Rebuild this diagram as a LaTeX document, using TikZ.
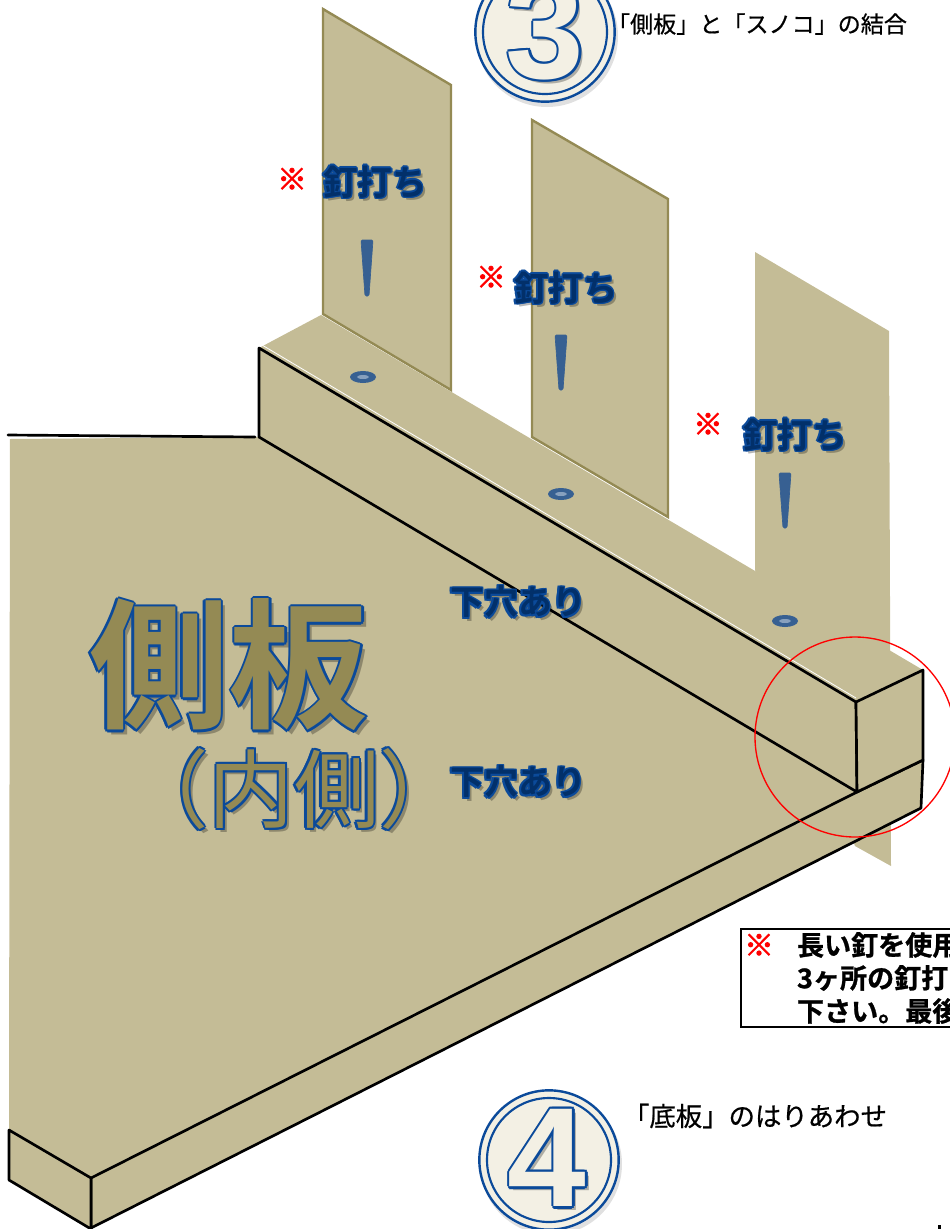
\documentclass[tikz,border=0pt]{standalone}
\usepackage{fontspec}
\setmainfont{Liberation Sans}
\newfontfamily\jp{Noto Sans CJK JP}
\newfontfamily\jpbold{Noto Sans CJK JP Bold}
\newfontfamily\jpmarkfat[FakeBold=3]{Noto Sans CJK JP Bold}
\newfontfamily\jpnote[FakeBold=1]{Noto Sans CJK JP Bold}
\newfontfamily\jpcap[FakeBold=.6]{Noto Sans CJK JP}
\newfontfamily\numbold{Liberation Sans Bold}
\definecolor{wood}{HTML}{C4BC96}
\definecolor{woodedge}{HTML}{948A54}
\definecolor{inkblue}{HTML}{0B4A9A}
\definecolor{inknavy}{HTML}{02306A}
\definecolor{nailblue}{HTML}{376092}
\definecolor{cream}{HTML}{F3F0E4}
\tikzset{
  board/.style={fill=wood,draw=woodedge,line width=1.8pt,line join=miter},
  boardplain/.style={fill=wood,draw=none},
  woodface/.style={fill=wood,draw=black,line width=2pt,line join=round},
  edgeline/.style={draw=black,line width=2pt,line cap=round},
  nail/.style={fill=nailblue,draw=nailblue,line width=.5pt,line join=round,rounded corners=1pt},
  hole/.style={fill=nailblue,draw=none},
  holeglint/.style={fill=nailblue!60!white,draw=none},
  plain/.style={inner sep=0pt,outer sep=0pt,anchor=center},
  redmark/.style={plain,text=red,font=\jpmarkfat\fontsize{22}{22}\selectfont},
  notebox/.style={draw=black,line width=2.2pt,fill=white},
  note/.style={plain,anchor=west,text=black,font=\jpnote\fontsize{20.3}{20}\selectfont},
  ringouter/.style={circle,draw=inkblue,line width=1.8pt,fill=cream,minimum size=104.5pt,inner sep=0pt},
  ringinner/.style={circle,draw=inkblue,line width=1.6pt,fill=cream,minimum size=93pt,inner sep=0pt},
}
% label: soft shadow, blue outline (glyph copies round the text), inner fill on top
% #1 x, #2 y, #3 font, #4 size, #5 fill, #6 text, #7 outline offset, #8 diagonal offset
\newcommand{\outl}[8]{%
  \node[plain,text=black,opacity=.28,font=#3\fontsize{#4}{#4}\selectfont] at (#1+#7+1.5,#2+#7+1.5) {#6};
  \foreach \dx/\dy in {#7/0,-#7/0,0/#7,0/-#7,#8/#8,-#8/#8,#8/-#8,-#8/-#8}{
    \node[plain,text=inkblue,font=#3\fontsize{#4}{#4}\selectfont] at (#1+\dx,#2+\dy) {#6};
  }
  \node[plain,text=#5,font=#3\fontsize{#4}{#4}\selectfont] (#1x#2) at (#1,#2) {#6};
}
\begin{document}
\begin{tikzpicture}[x=.75pt,y=-.75pt]
\useasboundingbox (0,0) rectangle (950,1229);
\clip (0,0) rectangle (950,1229);
% upright boards
\path[board] (323,9) -- (451,85) -- (451,390) -- (323,314) -- cycle;
\path[board] (532,120) -- (668,199) -- (668,517) -- (532,437) -- cycle;
\path[boardplain] (755,252) -- (889,331) -- (891,866) -- (855,846) -- (755,570) -- cycle;
% side plate and lower strip
\path[boardplain] (10,439) -- (259,437) -- (857,792) -- (91,1178) -- (9,1130) -- cycle;
\path[woodface] (91,1178) -- (857,792) -- (923,760) -- (921,808) -- (91,1228) -- cycle;
\path[woodface] (9,1130) -- (91,1178) -- (91,1229) -- (9,1180) -- cycle;
% beam
\path[boardplain] (259,348) -- (321,315) -- (923,670) -- (856,702) -- cycle;
\path[woodface] (259,348) -- (856,702) -- (857,792) -- (259,437) -- cycle;
\path[woodface] (856,702) -- (923,670) -- (923,760) -- (857,792) -- cycle;
\draw[white,line width=.6pt] (262,345) -- (856,698);
\draw[edgeline] (8,435) -- (255,437);
% nails and holes
\path[nail] (361,240) -- (373,240) -- (369,296) -- (365,296) -- cycle;
\path[nail] (555,335) -- (567,335) -- (563,390) -- (559,390) -- cycle;
\path[nail] (779,473) -- (791,473) -- (787,528) -- (783,528) -- cycle;
\path[hole] (363,377) ellipse [x radius=13,y radius=6];
\path[holeglint] (363,377) ellipse [x radius=6,y radius=2];
\path[hole] (561,494) ellipse [x radius=13,y radius=6];
\path[holeglint] (561,494) ellipse [x radius=6,y radius=2];
\path[hole] (785,621) ellipse [x radius=13,y radius=6];
\path[holeglint] (785,621) ellipse [x radius=6,y radius=2];
% red detail circle
\draw[red,line width=1pt] (855,737) circle [radius=100];
% nailing labels
\node[redmark] (m1) at (292,179) {※};
\node[redmark] (m2) at (491,277) {※};
\node[redmark] (m3) at (708,424) {※};
\outl{375}{182}{\jpbold}{26}{inknavy}{釘打ち}{1.6}{1.1}
\outl{566}{288}{\jpbold}{26}{inknavy}{釘打ち}{1.6}{1.1}
\outl{795}{435}{\jpbold}{26}{inknavy}{釘打ち}{1.6}{1.1}
\outl{518}{602}{\jpbold}{25.5}{inknavy}{下穴あり}{1.6}{1.1}
\outl{518}{782}{\jpbold}{25.5}{inknavy}{下穴あり}{1.6}{1.1}
% big labels
\outl{229}{665}{\jpbold}{105}{woodedge}{側板}{2.6}{1.9}
\outl{294}{789}{\jp}{64}{woodedge}{（内側）}{2.2}{1.6}
% step numbers
\path[fill=black,opacity=.12] (547,36) circle [radius=71];
\path[fill=black,opacity=.12] (551,1164) circle [radius=71];
\node[ringouter] (c3) at (545,32) {};
\node[ringinner] (c3i) at (545,32) {};
\node[ringouter] (c4) at (549,1160) {};
\node[ringinner] (c4i) at (549,1160) {};
\outl{545}{30}{\numbold}{106}{cream}{3}{2.4}{1.7}
\outl{547}{1158}{\numbold}{106}{cream}{4}{2.4}{1.7}
\node[plain,text=black,font=\jpcap\fontsize{17.3}{18}\selectfont] (t3) at (757,24) {「側板」と「スノコ」の結合};
\node[plain,text=black,font=\jpcap\fontsize{19.8}{20}\selectfont] (t4) at (755,1116) {「底板」のはりあわせ};
% note box, cut by the page edge
\path[notebox] (741,929) rectangle (960,1027);
\node[redmark] (m4) at (759,945) {※};
\node[note] (l1) at (797,945) {長い釘を使用};
\node[note] (l2) at (797,978) {3ヶ所の釘打};
\node[note] (l3) at (797,1011) {下さい。最後};
\path[fill=black] (938,1225) rectangle (941,1229);
\end{tikzpicture}
\end{document}
